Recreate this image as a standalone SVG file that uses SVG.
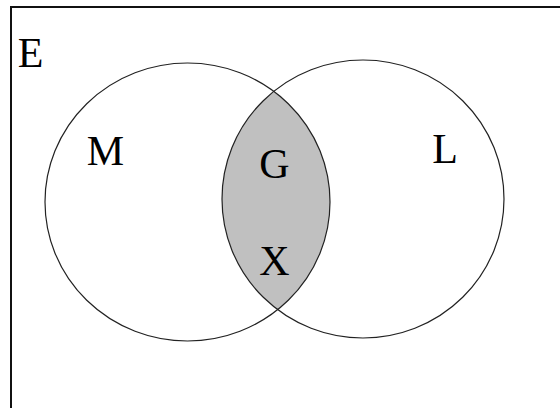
<svg xmlns="http://www.w3.org/2000/svg" width="560" height="408" viewBox="0 0 560 408">
<style>
.set{fill:none;stroke:#222;stroke-width:1.2}
.lbl{font-family:"Liberation Serif",serif;font-size:42px;fill:#000;text-anchor:middle}
</style>
<defs>
<clipPath id="clipM"><ellipse cx="187.5" cy="202" rx="142.5" ry="139"/></clipPath>
</defs>
<rect width="560" height="408" fill="#fff"/>
<g id="E">
<rect x="11" y="7" width="600" height="450" fill="none" stroke="#111" stroke-width="2"/>
<text class="lbl" x="30.5" y="67">E</text>
</g>
<g id="G">
<ellipse cx="363" cy="199" rx="141" ry="139" fill="#c0c0c0" clip-path="url(#clipM)"/>
<text class="lbl" x="274.5" y="178">G</text>
<text class="lbl" x="274.5" y="275">X</text>
</g>
<g id="M">
<ellipse class="set" cx="187.5" cy="202" rx="142.5" ry="139"/>
<text class="lbl" x="105.5" y="165">M</text>
</g>
<g id="L">
<ellipse class="set" cx="363" cy="199" rx="141" ry="139"/>
<text class="lbl" x="445" y="163">L</text>
</g>
<g id="connectors"/>
</svg>
